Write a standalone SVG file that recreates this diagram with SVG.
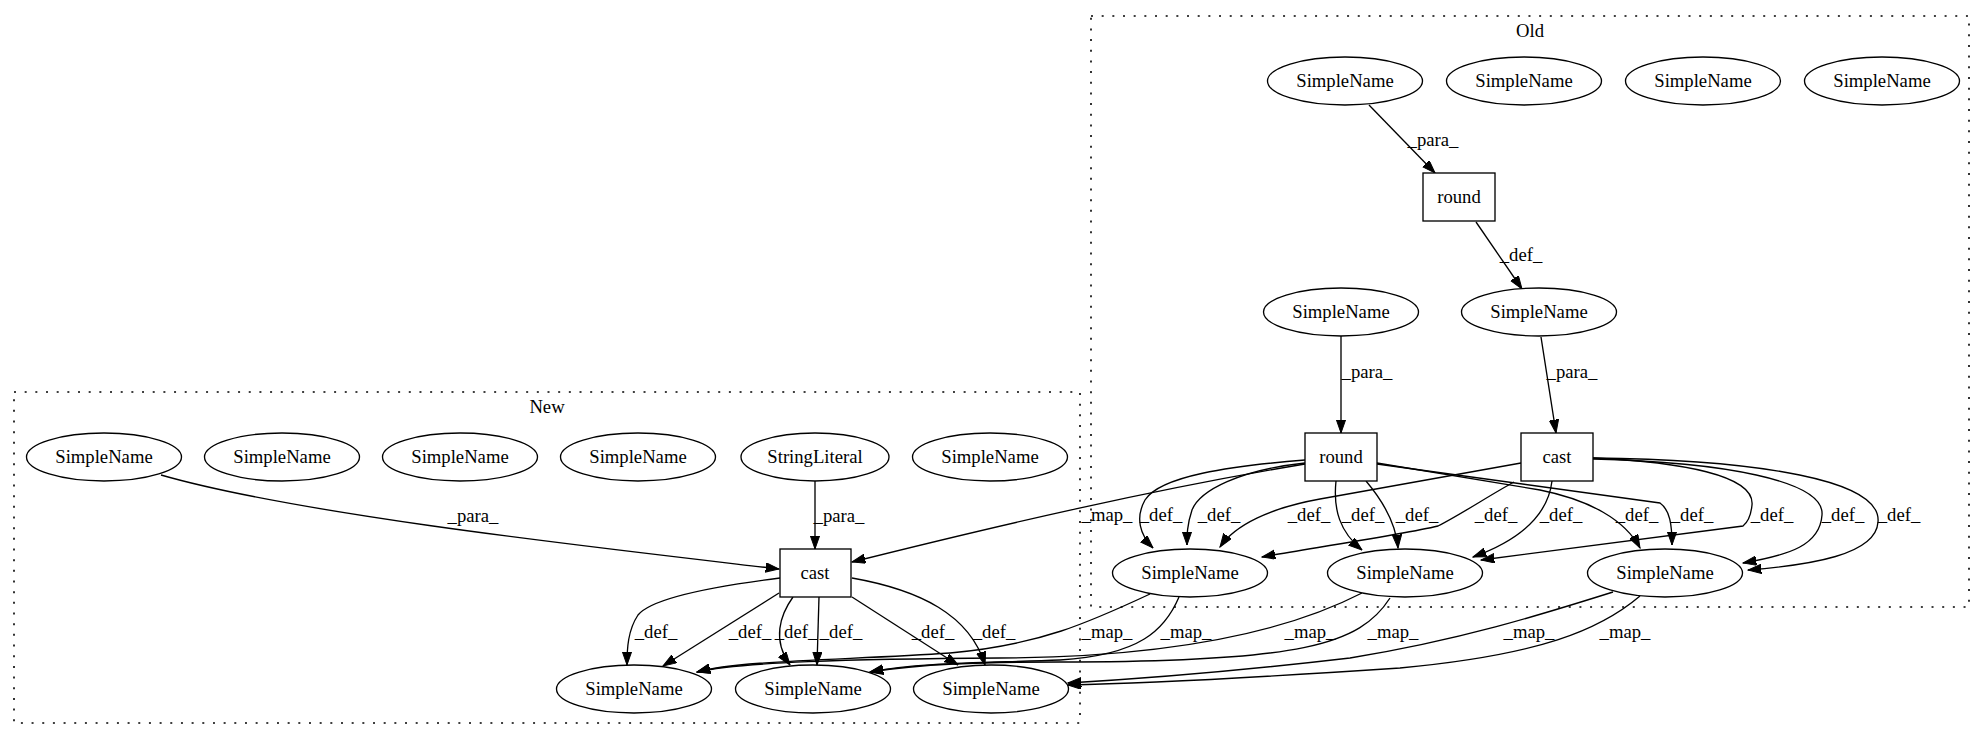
<svg xmlns="http://www.w3.org/2000/svg" width="1985" height="740" viewBox="0 0 1985 740">
<style>
text{font-family:"Liberation Serif","Times New Roman",serif;font-size:18.67px;fill:#000;text-anchor:middle}
.n{fill:#fff;stroke:#000;stroke-width:1.33}
.cl{fill:none;stroke:#000;stroke-width:1.6;stroke-dasharray:2,8.67}
.e{fill:none;stroke:#000;stroke-width:1.33;marker-end:url(#arr)}
</style>
<defs>
<marker id="arr" markerUnits="userSpaceOnUse" markerWidth="14" markerHeight="10" refX="13.3" refY="4.67" orient="auto">
<path d="M0,0 L13.3,4.67 L0,9.33 z" fill="#000" stroke="#000" stroke-width="1"/>
</marker>
</defs>
<rect width="1985" height="740" fill="#fff"/>
<g id="cluster_old">
<rect class="cl" x="1091" y="16" width="878" height="591"/>
<text x="1530" y="37">Old</text>
</g>
<g id="cluster_new">
<rect class="cl" x="14" y="392" width="1066" height="331"/>
<text x="547" y="413">New</text>
</g>
<g id="connectors">
<path class="e" d="M1369,105 L1435,173"/>
<text x="1433" y="146">_para_</text>
<path class="e" d="M1476,222 L1522,289"/>
<text x="1521" y="261">_def_</text>
<path class="e" d="M1341,336 L1341,433"/>
<text x="1367" y="378">_para_</text>
<path class="e" d="M1541,337 L1556,433"/>
<text x="1572" y="378">_para_</text>
<path class="e" d="M1305,460 C1230,466 1160,476 1145,500 C1135,518 1140,535 1153,548"/>
<text x="1161" y="521">_def_</text>
<path class="e" d="M1305,463 C1240,470 1200,490 1192,510 C1187,525 1187,535 1187,545"/>
<text x="1219" y="521">_def_</text>
<path class="e" d="M1521,463 L1320,499 C1270,508 1235,525 1220,547"/>
<text x="1309" y="521">_def_</text>
<path class="e" d="M1514,482 C1490,495 1460,515 1438,526 C1400,535 1300,550 1262,557"/>
<text x="1496" y="521">_def_</text>
<path class="e" d="M1336,481 C1333,510 1340,532 1362,550"/>
<text x="1363" y="521">_def_</text>
<path class="e" d="M1366,481 C1382,500 1396,522 1398,548"/>
<text x="1417" y="521">_def_</text>
<path class="e" d="M1552,481 C1548,515 1520,540 1473,557"/>
<text x="1561" y="521">_def_</text>
<path class="e" d="M1593,458 C1680,462 1755,475 1752,505 C1751,515 1748,522 1743,526 L1481,560"/>
<text x="1772" y="521">_def_</text>
<path class="e" d="M1377,463 L1540,490 C1590,500 1625,520 1640,548"/>
<text x="1637" y="521">_def_</text>
<path class="e" d="M1377,464 L1660,503 C1670,510 1672,525 1672,545"/>
<text x="1692" y="521">_def_</text>
<path class="e" d="M1593,459 C1720,462 1825,480 1822,515 C1820,545 1790,555 1743,563"/>
<text x="1843" y="521">_def_</text>
<path class="e" d="M1593,458 C1760,460 1882,480 1878,522 C1876,555 1810,565 1748,570"/>
<text x="1899" y="521">_def_</text>
<path class="e" d="M1305,464 C1150,490 1000,525 852,562"/>
<text x="1107" y="521">_map_</text>
<path class="e" d="M1150,594 C1090,622 1040,645 950,653 C850,660 740,660 697,672"/>
<text x="1107" y="638">_map_</text>
<path class="e" d="M1179,597 C1165,630 1140,655 1060,660 C990,663 920,662 870,672"/>
<text x="1186" y="638">_map_</text>
<path class="e" d="M1362,593 C1290,630 1180,657 1000,658 C850,659 740,662 697,672"/>
<text x="1310" y="638">_map_</text>
<path class="e" d="M1390,598 C1360,645 1300,662 1060,662 C980,662 920,664 870,672"/>
<text x="1393" y="638">_map_</text>
<path class="e" d="M1613,592 C1540,615 1460,640 1350,658 C1230,672 1120,680 1068,683"/>
<text x="1529" y="638">_map_</text>
<path class="e" d="M1640,596 C1600,630 1540,655 1400,668 C1250,678 1120,684 1068,685"/>
<text x="1625" y="638">_map_</text>
<path class="e" d="M161,475 C300,515 600,548 779,569"/>
<text x="473" y="522">_para_</text>
<path class="e" d="M815,481 L815,549"/>
<text x="839" y="522">_para_</text>
<path class="e" d="M780,578 C700,588 650,600 638,615 C628,630 627,648 627,665"/>
<text x="656" y="638">_def_</text>
<path class="e" d="M779,593 L663,666"/>
<text x="750" y="638">_def_</text>
<path class="e" d="M793,597 C780,615 772,640 790,665"/>
<text x="796" y="638">_def_</text>
<path class="e" d="M819,597 L817,665"/>
<text x="841" y="638">_def_</text>
<path class="e" d="M852,597 L958,665"/>
<text x="933" y="638">_def_</text>
<path class="e" d="M852,578 C920,590 970,615 985,665"/>
<text x="994" y="638">_def_</text>
</g>
<g id="old_sn1"><ellipse class="n" cx="1345" cy="81" rx="77.5" ry="24"/><text x="1345" y="87">SimpleName</text></g>
<g id="old_sn2"><ellipse class="n" cx="1524" cy="81" rx="77.5" ry="24"/><text x="1524" y="87">SimpleName</text></g>
<g id="old_sn3"><ellipse class="n" cx="1703" cy="81" rx="77.5" ry="24"/><text x="1703" y="87">SimpleName</text></g>
<g id="old_sn4"><ellipse class="n" cx="1882" cy="81" rx="77.5" ry="24"/><text x="1882" y="87">SimpleName</text></g>
<g id="old_round1"><rect class="n" x="1423" y="173" width="72" height="48"/><text x="1459" y="203">round</text></g>
<g id="old_sn5"><ellipse class="n" cx="1341" cy="312" rx="77.5" ry="24"/><text x="1341" y="318">SimpleName</text></g>
<g id="old_sn6"><ellipse class="n" cx="1539" cy="312" rx="77.5" ry="24"/><text x="1539" y="318">SimpleName</text></g>
<g id="old_round2"><rect class="n" x="1305" y="433" width="72" height="48"/><text x="1341" y="463">round</text></g>
<g id="old_cast"><rect class="n" x="1521" y="433" width="72" height="48"/><text x="1557" y="463">cast</text></g>
<g id="old_sn7"><ellipse class="n" cx="1190" cy="573" rx="77.5" ry="24"/><text x="1190" y="579">SimpleName</text></g>
<g id="old_sn8"><ellipse class="n" cx="1405" cy="573" rx="77.5" ry="24"/><text x="1405" y="579">SimpleName</text></g>
<g id="old_sn9"><ellipse class="n" cx="1665" cy="573" rx="77.5" ry="24"/><text x="1665" y="579">SimpleName</text></g>
<g id="new_sn1"><ellipse class="n" cx="104" cy="457" rx="77.5" ry="24"/><text x="104" y="463">SimpleName</text></g>
<g id="new_sn2"><ellipse class="n" cx="282" cy="457" rx="77.5" ry="24"/><text x="282" y="463">SimpleName</text></g>
<g id="new_sn3"><ellipse class="n" cx="460" cy="457" rx="77.5" ry="24"/><text x="460" y="463">SimpleName</text></g>
<g id="new_sn4"><ellipse class="n" cx="638" cy="457" rx="77.5" ry="24"/><text x="638" y="463">SimpleName</text></g>
<g id="new_str"><ellipse class="n" cx="815" cy="457" rx="74" ry="24"/><text x="815" y="463">StringLiteral</text></g>
<g id="new_sn5"><ellipse class="n" cx="990" cy="457" rx="77.5" ry="24"/><text x="990" y="463">SimpleName</text></g>
<g id="new_cast"><rect class="n" x="780" y="549" width="71" height="48"/><text x="815" y="579">cast</text></g>
<g id="new_sn6"><ellipse class="n" cx="634" cy="689" rx="77.5" ry="24"/><text x="634" y="695">SimpleName</text></g>
<g id="new_sn7"><ellipse class="n" cx="813" cy="689" rx="77.5" ry="24"/><text x="813" y="695">SimpleName</text></g>
<g id="new_sn8"><ellipse class="n" cx="991" cy="689" rx="77.5" ry="24"/><text x="991" y="695">SimpleName</text></g>
</svg>
